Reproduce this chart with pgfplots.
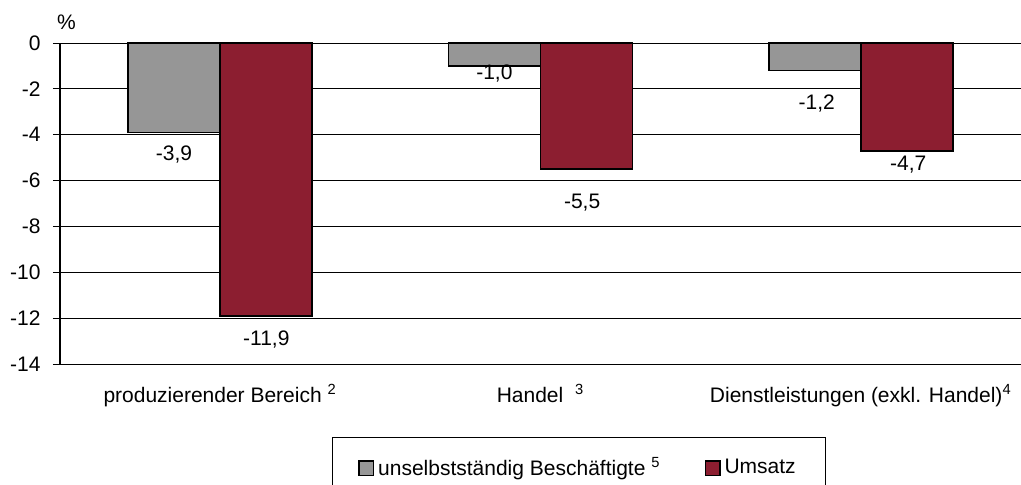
\documentclass[border=0pt]{standalone}
\usepackage{fontspec}
\setmainfont{Liberation Sans}
\usepackage{pgfplots}
\pgfplotsset{compat=1.18}
\definecolor{barGrey}{RGB}{150,150,150}
\definecolor{barRed}{RGB}{140,30,48}

\begin{document}
\fontsize{10.5}{12.6}\selectfont
\begin{tikzpicture}
\begin{axis}[
  scale only axis, width=480.5pt, height=160.5pt,
  xmin=-0.5, xmax=2.5, ymin=-14, ymax=0,
  ybar=0pt, bar width=46pt, clip=false,
  xtick={0,1,2},
  xticklabels={produzierender Bereich \textsuperscript{2},
               Handel\ \ \textsuperscript{3},
               Dienstleistungen (exkl. Handel)\textsuperscript{4}},
  ytick={-14,-12,...,0},
  axis lines*=left,
  x axis line style={draw=none},
  y axis line style={black, line width=0.6pt},
  ymajorgrids, grid style={black, line width=0.5pt},
  tick align=outside, major tick length=3.5pt,
  ytick style={black, line width=0.5pt},
  xtick style={draw=none},
  yticklabel style={xshift=-2.5pt},
  xticklabel style={yshift=-3pt},
  /pgf/number format/assume math mode=true,
  legend columns=2,
  legend style={at={(0.54,-0.2274)}, anchor=north, draw=black, line width=0.5pt,
    inner xsep=13pt, inner ysep=8pt,
    /tikz/every even column/.append style={column sep=20pt}},
  legend image code/.code={\draw[#1, draw=black, line width=0.8pt] (0pt,-3.6pt) rectangle (7.2pt,3.6pt);},
]
\addplot[fill=barGrey, draw=black, line width=0.8pt] coordinates {(0,-3.9) (1,-1.0) (2,-1.2)};
\addlegendentry{unselbstständig Beschäftigte \textsuperscript{5}}
\addplot[fill=barRed, draw=black, line width=0.8pt] coordinates {(0,-11.9) (1,-5.5) (2,-4.7)};
\addlegendentry{Umsatz}

\node at (axis cs:-0.144,-4.88) {-3,9};
\node at (axis cs:0.144,-12.93) {-11,9};
\node at (axis cs:0.856,-1.31) {-1,0};
\node at (axis cs:1.13,-6.98) {-5,5};
\node at (axis cs:1.8625,-2.64) {-1,2};
\node at (axis cs:2.148,-5.32) {-4,7};
\node at ([xshift=3.25pt,yshift=10.25pt]rel axis cs:0,1) {\%};
\end{axis}
\pgfresetboundingbox
\path[use as bounding box] (-30pt,-60pt) rectangle (480.5pt,182pt);
\end{tikzpicture}
\end{document}
